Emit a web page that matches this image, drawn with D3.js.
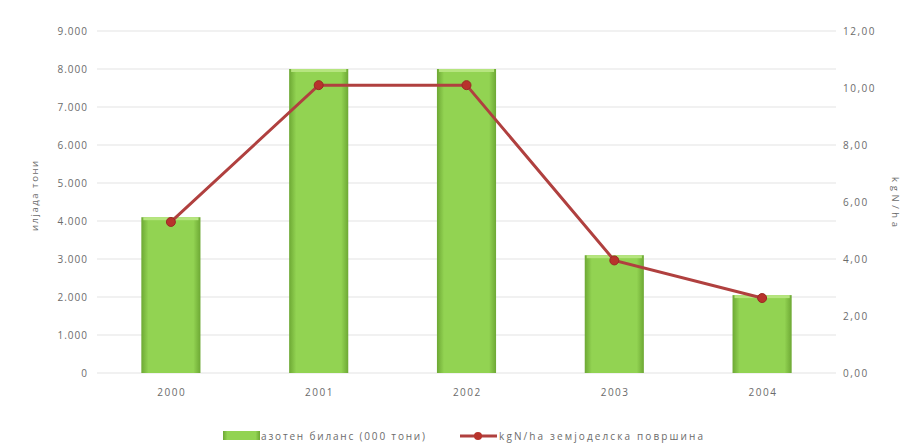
<!DOCTYPE html>
<html><head><meta charset="utf-8">
<script src="https://cdn.jsdelivr.net/npm/d3@7"></script>
<style>body{margin:0;background:#fff}svg{display:block}text{font-family:"Open Sans","DejaVu Sans",sans-serif;fill:#6b6b6b}</style>
</head><body><svg id="c" width="911" height="448"></svg>
<script>
const years = ["2000","2001","2002","2003","2004"];
const balance = [4100, 8000, 8000, 3100, 2050];
const kgPerHa = [5.30, 10.10, 10.10, 3.95, 2.63];
const leftTicks = [0,1000,2000,3000,4000,5000,6000,7000,8000,9000];
const rightTicks = [0,2,4,6,8,10,12];
const leftTitle = "илјада тони";
const rightTitle = "kgN/ha";
const legendBar = "азотен биланс (000 тони)";
const legendLine = "kgN/ha земјоделска површина";

const svg = d3.select("#c");
const L=97, R=836, T=31, B=373;
const x = d3.scaleBand().domain(years).range([L,R]).paddingInner(0.6).paddingOuter(0.3);
const y = d3.scaleLinear().domain([0,9000]).range([B,T]);
const y2 = d3.scaleLinear().domain([0,12]).range([B,T]);

const defs = svg.append("defs");
const g = defs.append("linearGradient").attr("id","bg").attr("x1","0").attr("x2","1").attr("y1","0").attr("y2","0");
g.append("stop").attr("offset","0").attr("stop-color","#6da834");
g.append("stop").attr("offset","0.12").attr("stop-color","#92d352");
g.append("stop").attr("offset","0.88").attr("stop-color","#92d352");
g.append("stop").attr("offset","1").attr("stop-color","#6da834");

// grid
svg.append("g").selectAll("line").data(leftTicks).join("line")
  .attr("x1",L).attr("x2",R).attr("y1",d=>y(d)).attr("y2",d=>y(d))
  .attr("stroke","#e3e3e3").attr("stroke-width",1.2);

const fmtL = d => d3.format(",")(d).replace(/,/g,".");
const fmtR = d => d3.format(".2f")(d).replace(".",",");

const axL = d3.axisLeft(y).tickValues(leftTicks).tickFormat(fmtL).tickSize(0).tickPadding(8);
svg.append("g").attr("transform",`translate(${L-1},0)`).call(axL)
  .call(s=>s.select(".domain").remove())
  .selectAll("text").attr("font-size",10).attr("letter-spacing",1);
const axR = d3.axisRight(y2).tickValues(rightTicks).tickFormat(fmtR).tickSize(0).tickPadding(7);
svg.append("g").attr("transform",`translate(${R},0)`).call(axR)
  .call(s=>s.select(".domain").remove())
  .selectAll("text").attr("font-size",10).attr("letter-spacing",1.5);
const axB = d3.axisBottom(x).tickSize(0).tickPadding(16);
svg.append("g").attr("transform",`translate(0,${B})`).call(axB)
  .call(s=>s.select(".domain").remove())
  .selectAll("text").attr("font-size",10).attr("letter-spacing",1.5).attr("dx",0.8);

// bars
const bars = svg.append("g").selectAll("g").data(years).join("g");
bars.append("rect").attr("x",d=>x(d)).attr("width",x.bandwidth())
  .attr("y",(d,i)=>y(balance[i])).attr("height",(d,i)=>B-y(balance[i]))
  .attr("fill","url(#bg)");
bars.append("rect").attr("x",d=>x(d)+2).attr("width",x.bandwidth()-4)
  .attr("y",(d,i)=>y(balance[i])).attr("height",3).attr("fill","#b6e57f");

// line
const pts = years.map((d,i)=>[x(d)+x.bandwidth()/2, y2(kgPerHa[i])]);
svg.append("path").attr("d",d3.line()(pts)).attr("fill","none")
  .attr("stroke","#b0403f").attr("stroke-width",3);
svg.append("g").selectAll("circle").data(pts).join("circle")
  .attr("cx",d=>d[0]).attr("cy",d=>d[1]).attr("r",4.5)
  .attr("fill","#b8332c").attr("stroke","#9a2a24").attr("stroke-width",1);

// titles
svg.append("text").attr("transform","translate(38,196) rotate(-90)").attr("text-anchor","middle")
  .attr("font-size",9.5).attr("textLength",70).attr("lengthAdjust","spacing").text(leftTitle);
svg.append("text").attr("transform","translate(892,202) rotate(90)").attr("text-anchor","middle")
  .attr("font-size",9.5).attr("textLength",50).attr("lengthAdjust","spacing").text(rightTitle);

// legend
const ly = 436;
svg.append("rect").attr("x",223).attr("y",ly-5).attr("width",37).attr("height",9).attr("fill","url(#bg)");
svg.append("text").attr("x",261).attr("y",ly+3.5).attr("font-size",10)
  .attr("textLength",164).attr("lengthAdjust","spacing").text(legendBar);
svg.append("line").attr("x1",460).attr("x2",497).attr("y1",ly).attr("y2",ly).attr("stroke","#b0403f").attr("stroke-width",3);
svg.append("circle").attr("cx",478).attr("cy",ly).attr("r",4).attr("fill","#b8332c");
svg.append("text").attr("x",499).attr("y",ly+3.5).attr("font-size",10)
  .attr("textLength",204).attr("lengthAdjust","spacing").text(legendLine);
</script></body></html>
